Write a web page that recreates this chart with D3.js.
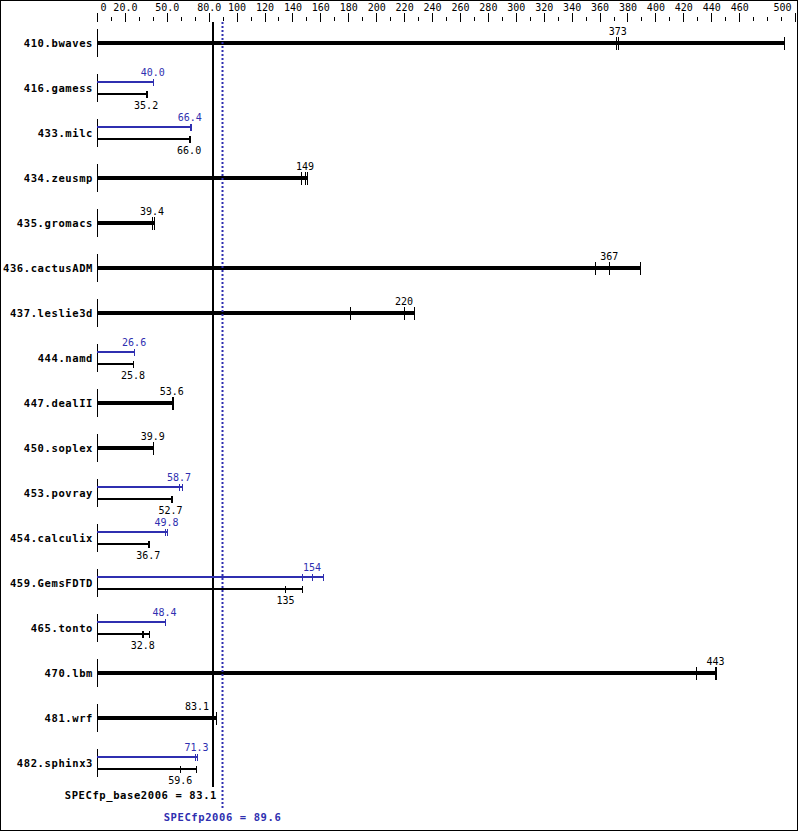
<!DOCTYPE html>
<html><head><meta charset="utf-8">
<script src="https://cdn.jsdelivr.net/npm/d3@7"></script>
<style>body{margin:0;background:#fff}svg{display:block}</style>
</head><body>
<script>
// ---------- data ----------
const benchmarks = ["410.bwaves","416.gamess","433.milc","434.zeusmp","435.gromacs","436.cactusADM",
  "437.leslie3d","444.namd","447.dealII","450.soplex","453.povray","454.calculix","459.GemsFDTD",
  "465.tonto","470.lbm","481.wrf","482.sphinx3"];
// individual run ratios (base); median is the reported value
const baseRuns = [
  [371.6, 373, 492], [35.2, 35.2, 35.8], [66.0, 66.0, 66.4], [146, 149, 150.4], [39.2, 39.4, 40.8],
  [357, 367, 389], [181, 220, 227], [25.7, 25.8, 25.9], [53.6, 53.6, 54.2], [39.8, 39.9, 40.1],
  [52.7, 52.7, 53.7], [36.7, 36.7, 37.0], [134.8, 135, 147], [32.5, 32.8, 37.2], [429, 443, 443.4],
  [83.0, 83.1, 85.4], [59.4, 59.6, 70.9]
];
// peak runs (null = peak identical to base, drawn as a single thick bar)
const peakRuns = [
  null, [40.0, 40.0, 40.3], [66.4, 66.4, 67.2], null, null,
  null, null, [26.5, 26.6, 26.7], null, null,
  [58.6, 58.7, 60.6], [48.7, 49.8, 49.9], [147, 154, 162], [48.4, 48.4, 48.7], null,
  null, [70.4, 71.3, 71.9]
];
const axisLabelValues = [0, 20, 50, 80, 100, 120, 140, 160, 180, 200, 220, 240, 260, 280, 300,
  320, 340, 360, 380, 400, 420, 440, 460, 500];
const axisLabelTexts = ["0", "20.0", "50.0", "80.0", "100", "120", "140", "160", "180", "200", "220",
  "240", "260", "280", "300", "320", "340", "360", "380", "400", "420", "440", "460", "500"];
const minorTickValues = d3.range(0, 501, 10);
const baseScore = 83.1;
const peakScore = 89.6;
const baseScoreLabel = "SPECfp_base2006 = 83.1";
const peakScoreLabel = "SPECfp2006 = 89.6";

// ---------- drawing ----------
const W = 799, H = 831;
const BLUE = "#2f2fb0";
const MONO = "'DejaVu Sans Mono', 'Liberation Mono', monospace";
const svg = d3.select("body").append("svg").attr("width", W).attr("height", H)
  .style("font-family", MONO);

svg.append("rect").attr("x", 0.5).attr("y", 0.5).attr("width", 797).attr("height", 830)
  .attr("fill", "#fff").attr("stroke", "#000");

const x = d3.scaleLinear().domain([0, 500]).range([97, 795]);
const y = d3.scaleBand().domain(benchmarks).range([20.5, 785.5]);
const fmt = d3.format(".3r");

// axis: short ticks
const minorAxis = d3.axisTop(x).tickValues(minorTickValues.filter(v => !axisLabelValues.includes(v)))
  .tickSize(4).tickFormat("");
svg.append("g").attr("transform", "translate(0,20.5)").call(minorAxis)
  .call(g => g.select(".domain").remove());
// axis: long ticks with labels
const majorAxis = d3.axisTop(x).tickValues(axisLabelValues).tickSize(9).tickPadding(2.5)
  .tickFormat((d, i) => axisLabelTexts[i]);
const gMajor = svg.append("g").attr("transform", "translate(0,22)").call(majorAxis)
  .call(g => g.select(".domain").remove());
gMajor.selectAll("text").attr("font-family", MONO).attr("font-size", "10px").attr("fill", "#000")
  .each(function(d, i) {
    const t = d3.select(this);
    if (i === 0) t.attr("text-anchor", "start").attr("x", 3);
    if (i === axisLabelValues.length - 1) t.attr("text-anchor", "end").attr("x", -4);
  });
svg.selectAll(".tick line").attr("stroke", "#000").attr("shape-rendering", "crispEdges");

const baseX = Math.round(x(baseScore));
const peakX = Math.round(x(peakScore)) + 0.5;

// score reference lines
svg.append("line").attr("x1", baseX).attr("x2", baseX).attr("y1", 22).attr("y2", 787)
  .attr("stroke", "#000").attr("stroke-width", 2).attr("shape-rendering", "crispEdges");

function labelX(cx, txt) {
  const w = txt.length * 6;
  if (cx - w / 2 < baseX + 2 && cx + w / 2 > baseX - 2) return {x: baseX - 4, anchor: "end"};
  return {x: cx, anchor: "middle"};
}

function drawRuns(g, runs, cy, color, width, tUp, tDown) {
  g.append("line").attr("x1", x(0)).attr("x2", x(d3.max(runs))).attr("y1", cy).attr("y2", cy)
    .attr("stroke", color).attr("stroke-width", width).attr("shape-rendering", "crispEdges");
  g.selectAll(null).data(runs).enter().append("line")
    .attr("x1", d => Math.round(x(d)) + 0.5).attr("x2", d => Math.round(x(d)) + 0.5)
    .attr("y1", cy - tUp).attr("y2", cy + tDown)
    .attr("stroke", color).attr("stroke-width", 1).attr("shape-rendering", "crispEdges");
}

function valueLabel(g, value, ly, color) {
  const txt = fmt(value);
  const p = labelX(x(value), txt);
  g.append("text").attr("x", p.x).attr("y", ly).attr("text-anchor", p.anchor)
    .attr("font-size", "10px").attr("fill", color).text(txt);
}

benchmarks.forEach((b, i) => {
  const cy = Math.round(y(b) + y.bandwidth() / 2);
  const g = svg.append("g");
  g.append("text").attr("x", 93).attr("y", cy + 4).attr("text-anchor", "end")
    .attr("font-size", "10.5px").attr("font-weight", "bold").attr("letter-spacing", "0.6px")
    .attr("fill", "#000").text(b);
  g.append("line").attr("x1", x(0) + 0.5).attr("x2", x(0) + 0.5).attr("y1", cy - 14).attr("y2", cy + 14)
    .attr("stroke", "#000").attr("stroke-width", 1).attr("shape-rendering", "crispEdges");
  const base = baseRuns[i], peak = peakRuns[i];
  if (!peak) {
    drawRuns(g, base, cy, "#000", 4, 6, 7);
    valueLabel(g, d3.median(base), cy - 8, "#000");
  } else {
    drawRuns(g, peak, cy - 6, BLUE, 2, 3, 4);
    drawRuns(g, base, cy + 6, "#000", 2, 3, 4);
    valueLabel(g, d3.median(peak), cy - 12.5, BLUE);
    valueLabel(g, d3.median(base), cy + 21, "#000");
  }
});

svg.append("line").attr("x1", peakX).attr("x2", peakX).attr("y1", 22).attr("y2", 808)
  .attr("stroke", BLUE).attr("stroke-width", 2).attr("stroke-dasharray", "2,2");

svg.append("text").attr("x", baseX + 4).attr("y", 799).attr("text-anchor", "end")
  .attr("font-size", "10.5px").attr("font-weight", "bold").attr("letter-spacing", "0.6px")
  .attr("fill", "#000").text(baseScoreLabel);
svg.append("text").attr("x", peakX).attr("y", 821).attr("text-anchor", "middle")
  .attr("font-size", "10.5px").attr("font-weight", "bold").attr("letter-spacing", "0.6px")
  .attr("fill", BLUE).text(peakScoreLabel);
</script>
</body></html>
